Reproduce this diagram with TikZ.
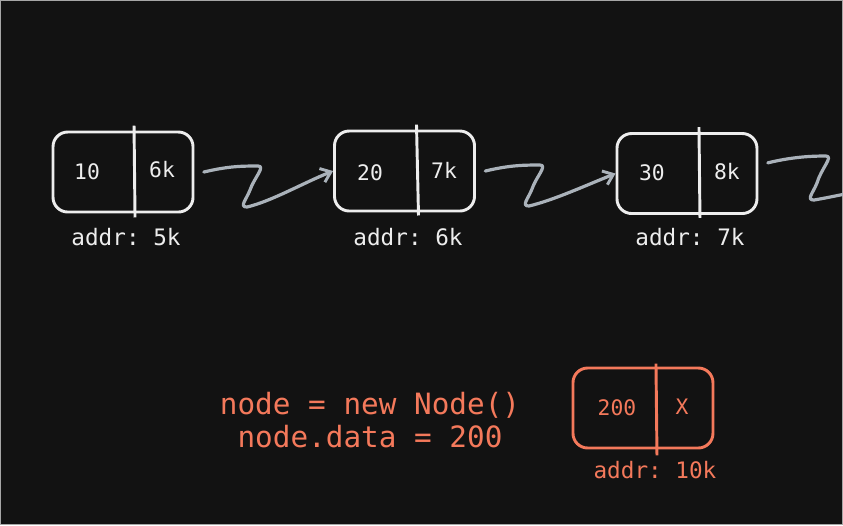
\documentclass[tikz,border=0pt]{standalone}
\usepackage{fontspec}
\setmonofont{DejaVu Sans Mono}
\usetikzlibrary{arrows.meta,%
		calc,%
		positioning}
\definecolor{bgdark}{HTML}{121212}
\definecolor{inkwhite}{HTML}{EDEDED}
\definecolor{inkgray}{HTML}{AAB2BA}
\definecolor{inkorange}{HTML}{F4795B}

\begin{document}
\begin{tikzpicture}[x=0.75pt,y=-0.75pt,font=\ttfamily,
    cell/.style={draw=inkwhite,line width=2.2pt,rounded corners=11pt,
      minimum width=105pt,minimum height=60pt,inner sep=0pt},
    val/.style={text=inkwhite,font=\ttfamily\fontsize{16}{18}\selectfont},
    addr/.style={text=inkwhite,font=\ttfamily\fontsize{17}{19}\selectfont},
    link/.style={draw=inkgray,line width=2.4pt,line cap=round,line join=round,
      -{Straight Barb[length=7pt,width=11pt,line width=2.2pt]}},
    link end/.style={draw=inkgray,line width=2.4pt,line cap=round,line join=round}]
  % background
  \fill[bgdark] (0,0) rectangle (843,525);
  \draw[gray!70,line width=0.8pt] (0.5,0.5) rectangle (842.5,524.5);
  \useasboundingbox (0,0) rectangle (843,525);

  % list nodes
  \node[cell] (n1) at (123,172) {};
  \node[cell] (n2) at (404.5,171) {};
  \node[cell] (n3) at (687,173.5) {};
  \node[cell,draw=inkorange] (n4) at (643,408) {};

  \draw[inkwhite,line width=2.2pt] ($(n1.north)+(11,-5)$) -- ($(n1.south)+(12,4)$);
  \draw[inkwhite,line width=2.2pt] ($(n2.north)+(12,-5)$) -- ($(n2.south)+(14,3)$);
  \draw[inkwhite,line width=2.2pt] ($(n3.north)+(12,-5)$) -- ($(n3.south)+(13,3)$);
  \draw[inkorange,line width=2.2pt] ($(n4.north)+(13,-3)$) -- ($(n4.south)+(14,6)$);

  % values
  \node[val] (d1) at (87,172) {10};
  \node[val] (p1) at (162,170) {6k};
  \node[val] (d2) at (370,173) {20};
  \node[val] (p2) at (444,170) {7k};
  \node[val] (d3) at (652,173) {30};
  \node[val] (p3) at (727,172) {8k};
  \node[val,text=inkorange] (d4) at (617,408) {200};
  \node[val,text=inkorange] (p4) at (682,407) {X};

  % addresses
  \node[addr] (a1) at (126,237) {addr: 5k};
  \node[addr] (a2) at (408,237) {addr: 6k};
  \node[addr] (a3) at (690,237) {addr: 7k};
  \node[addr,text=inkorange] (a4) at (655,470) {addr: 10k};

  % code
  \node[text=inkorange,font=\ttfamily\fontsize{22}{25}\selectfont,align=center]
    (code) at (370,420) {node = new Node()\\node.data = 200};

  % links
  \draw[link] ([xshift=7pt]n1.east) .. controls +(25,-6) and +(-15,0) .. (258,166)
    .. controls +(8,0) and +(4,-12) .. (250,190)
    .. controls +(-4,10) and +(-8,0) .. (247,207)
    .. controls +(25,-6) and +(-30,12) .. (n2.west);
  \draw[link] ([xshift=7pt]n2.east) .. controls +(25,-6) and +(-15,0) .. (540,165)
    .. controls +(8,0) and +(4,-12) .. (532,189)
    .. controls +(-4,10) and +(-8,0) .. (529,206)
    .. controls +(25,-6) and +(-30,12) .. (n3.west);
  \coordinate (off) at (850,193);
  \draw[link end] ([xshift=7pt,yshift=8pt]n3.east) .. controls +(25,-6) and +(-15,0) .. (826,156)
    .. controls +(8,0) and +(4,-14) .. (817,183)
    .. controls +(-4,10) and +(-8,0) .. (814,200)
    .. controls +(12,-2) and +(-10,2) .. (off);
\end{tikzpicture}
\end{document}
